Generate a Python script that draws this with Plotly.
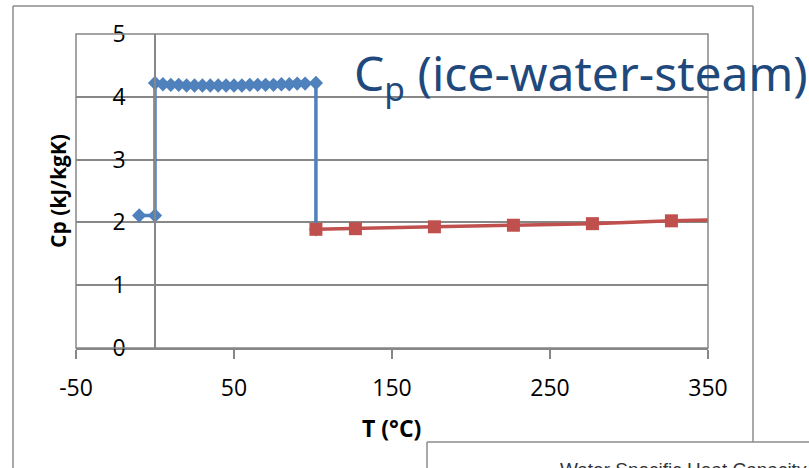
import plotly.graph_objects as go

# ---- data ----
ice_T = [-10, 0]
ice_cp = [2.11, 2.11]
water_T = [0, 5, 10, 15, 20, 25, 30, 35, 40, 45, 50, 55, 60, 65, 70, 75, 80, 85, 90, 95, 101.85]
water_cp = [4.22, 4.20, 4.19, 4.19, 4.18, 4.18, 4.18, 4.18, 4.18, 4.18, 4.18, 4.18, 4.19, 4.19,
            4.19, 4.19, 4.20, 4.20, 4.21, 4.21, 4.22]
drop_T = [101.85]
drop_cp = [1.89]
steam_T = [101.85, 126.85, 176.85, 226.85, 276.85, 326.85, 376.85]
steam_cp = [1.89, 1.90, 1.93, 1.955, 1.98, 2.025, 2.05]

x_ticks = [-50, 50, 150, 250, 350]
y_ticks = [0, 1, 2, 3, 4, 5]

blue_T = ice_T + water_T + drop_T
blue_cp = ice_cp + water_cp + drop_cp

W, H = 809, 468
L, R, T, B = 76, 708, 34, 348


def fx(px):
    return (px - L) / (R - L)


def fy(py):
    return (B - py) / (B - T)


GRID = "#878787"
FRAME = "#8c8c8c"

fig = go.Figure()
fig.add_trace(go.Scatter(
    x=blue_T, y=blue_cp, mode="lines+markers",
    line=dict(color="#4F81BD", width=3.5),
    marker=dict(symbol="diamond", size=11, color="#4F81BD"),
    showlegend=False,
))
fig.add_trace(go.Scatter(
    x=steam_T, y=steam_cp, mode="lines+markers",
    line=dict(color="#C0504D", width=3.5),
    marker=dict(symbol="square", size=13, color="#C0504D"),
    showlegend=False,
))

tickfont = dict(family="Open Sans", size=23, color="#000000")

fig.update_layout(
    width=W, height=H,
    margin=dict(l=L, r=W - R, t=T, b=H - B),
    paper_bgcolor="white", plot_bgcolor="white",
    xaxis=dict(
        range=[-50, 350], tickmode="array", tickvals=x_ticks,
        ticktext=[str(v) for v in x_ticks],
        showgrid=False, zeroline=False, showline=True, linecolor=GRID, linewidth=1.5,
        ticks="outside", ticklen=9, tickcolor=GRID, tickwidth=1.5,
        tickfont=tickfont, ticklabelstandoff=10,
        domain=[0, 1],
    ),
    yaxis=dict(
        range=[0, 5], tickmode="array", tickvals=y_ticks,
        ticktext=[str(v) for v in y_ticks],
        showgrid=True, gridcolor=GRID, gridwidth=1.5, zeroline=False,
        showline=True, linecolor=GRID, linewidth=1.5,
        anchor="free", position=50 / 400,
        ticks="", tickfont=tickfont, ticklabelstandoff=24,
    ),
    font=dict(family="Open Sans"),
)

shapes = [
    # plot area border
    dict(type="rect", xref="paper", yref="paper", x0=0, x1=1, y0=0, y1=1,
         line=dict(color=GRID, width=1.5)),
    # outer chart frame
    dict(type="line", xref="paper", yref="paper", x0=fx(13), x1=fx(13), y0=fy(6), y1=fy(475),
         line=dict(color=FRAME, width=1.5)),
    dict(type="line", xref="paper", yref="paper", x0=fx(13), x1=fx(753), y0=fy(6), y1=fy(6),
         line=dict(color=FRAME, width=1.5)),
    dict(type="line", xref="paper", yref="paper", x0=fx(753), x1=fx(753), y0=fy(6), y1=fy(442),
         line=dict(color=FRAME, width=1.5)),
    # lower box
    dict(type="line", xref="paper", yref="paper", x0=fx(427), x1=fx(815), y0=fy(442), y1=fy(442),
         line=dict(color=FRAME, width=1.5)),
    dict(type="line", xref="paper", yref="paper", x0=fx(427), x1=fx(427), y0=fy(442), y1=fy(475),
         line=dict(color=FRAME, width=1.5)),
]
fig.update_layout(shapes=shapes)

fig.add_annotation(
    xref="paper", yref="paper", x=fx(58), y=fy(191), xanchor="center", yanchor="middle",
    text="<b>Cp (kJ/kgK)</b>", textangle=-90, showarrow=False,
    font=dict(family="Open Sans", size=21, color="#000000"),
)
fig.add_annotation(
    xref="paper", yref="paper", x=fx(391), y=fy(428), xanchor="center", yanchor="middle",
    text="<b>T (°C)</b>", showarrow=False,
    font=dict(family="Open Sans", size=23, color="#000000"),
)
fig.add_annotation(
    xref="paper", yref="paper", x=fx(352), y=fy(75), xanchor="left", yanchor="middle",
    text="C<sub>p</sub> (ice-water-steam)", showarrow=False,
    font=dict(family="Noto Sans", size=48, color="#1F497D"),
)
fig.add_annotation(
    xref="paper", yref="paper", x=fx(558), y=fy(457), xanchor="left", yanchor="top",
    text="Water Specific Heat Capacity", showarrow=False,
    font=dict(family="Liberation Sans", size=19, color="#333333"),
)

fig.write_html("out.html")
